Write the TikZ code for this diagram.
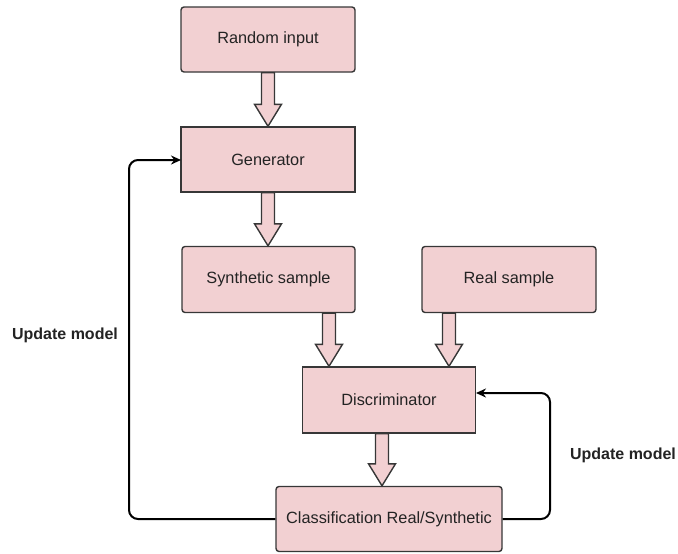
\documentclass[tikz,border=0pt]{standalone}
\usepackage{fontspec}
\setmainfont{Liberation Sans}
\usetikzlibrary{arrows.meta,calc}
\definecolor{boxpink}{RGB}{242,208,210}
\definecolor{boxedge}{RGB}{55,55,55}
\definecolor{textgray}{RGB}{35,35,35}
% wide hollow arrow from one box down to the next, at a given x
\newcommand{\fatarrow}[3]{%
  \filldraw[fat] let \p1=(#1.south), \p2=(#2.north), \p3=(#3,0) in
    (\x3-6.5pt,\y1) -- (\x3+6.5pt,\y1) -- (\x3+6.5pt,\y2+22pt) -- (\x3+13.5pt,\y2+22pt)
    -- (\x3,\y2) -- (\x3-13.5pt,\y2+22pt) -- (\x3-6.5pt,\y2+22pt) -- cycle;}

\begin{document}
\begin{tikzpicture}[x=1pt,y=-1pt,
  every node/.style={font=\fontsize{16.3}{19}\selectfont,text=textgray},
  blk/.style={draw=boxedge,line width=1.4pt,fill=boxpink,inner sep=0pt,minimum height=65pt,rounded corners=3pt},
  sqblk/.style={blk,rounded corners=0pt},
  fat/.style={draw=boxedge,line width=1.4pt,fill=boxpink,line join=miter},
  loop/.style={draw=black,line width=2pt,rounded corners=9pt,-{Stealth[length=10pt,width=9pt]}},
  lbl/.style={font=\fontsize{16}{19}\selectfont\bfseries}]
 \useasboundingbox (0,0) rectangle (678,554);
 \node[blk,minimum width=174pt] (rand) at (268,39.5) {Random input};
 \node[sqblk,minimum width=174pt] (gen) at (268,159.5) {Generator};
 \node[blk,minimum width=173pt,minimum height=66pt] (synth) at (268.5,279.5) {Synthetic sample};
 \node[blk,minimum width=174pt,minimum height=66pt] (real) at (509,279.5) {Real sample};
 \node[sqblk,minimum width=173pt,minimum height=66pt] (disc) at (389,400) {Discriminator};
 \node[blk,minimum width=226pt] (cls) at (389,519) {Classification Real/Synthetic};
 \fatarrow{rand}{gen}{268}
 \fatarrow{gen}{synth}{268}
 \fatarrow{synth}{disc}{329}
 \fatarrow{real}{disc}{449}
 \fatarrow{disc}{cls}{382}
 \coordinate (gin) at (181,160);
 \coordinate (din) at (476,393);
 \draw[loop] (cls.west) -| (129,160) -- (gin);
 \draw[loop] (cls.east) -| (550,393) -- (din);
 \node[lbl] (upl) at (65,335) {Update model};
 \node[lbl] (upr) at (623,455) {Update model};
\end{tikzpicture}
\end{document}
